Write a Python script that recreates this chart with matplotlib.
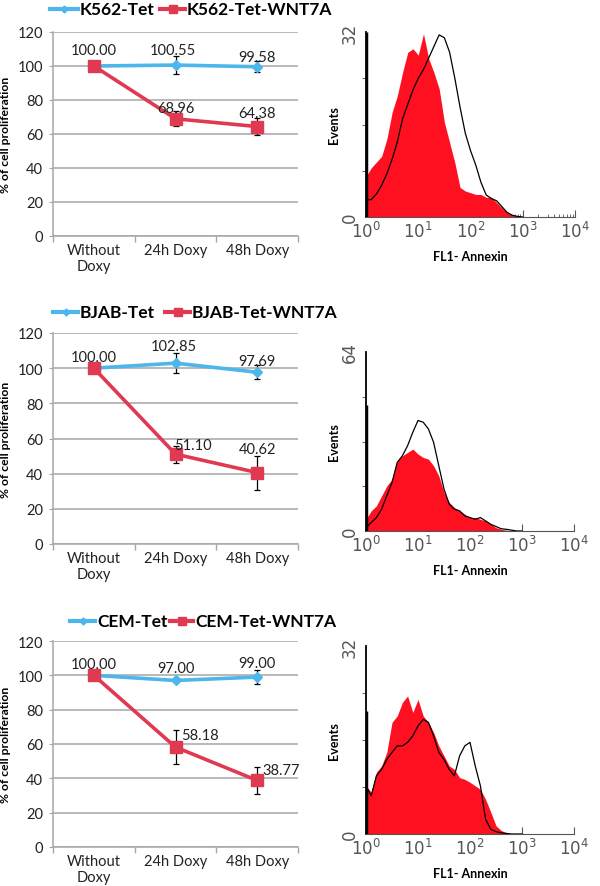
import numpy as np
import matplotlib
matplotlib.use('Agg')
import matplotlib.pyplot as plt
from matplotlib.lines import Line2D
from matplotlib.ticker import FixedLocator, NullFormatter

plt.rcParams['font.family'] = ['Lato', 'DejaVu Sans']

# line charts: % of cell proliferation
categories = ['Without\nDoxy', '24h Doxy', '48h Doxy']

k562_tet = [100.00, 100.55, 99.58]
k562_tet_err = [0, 5.2, 3.1]
k562_wnt = [100.00, 68.96, 64.38]
k562_wnt_err = [0, 4.5, 5.0]

bjab_tet = [100.00, 102.85, 97.69]
bjab_tet_err = [0, 5.8, 4.0]
bjab_wnt = [100.00, 51.10, 40.62]
bjab_wnt_err = [0, 4.9, 9.7]

cem_tet = [100.00, 97.00, 99.00]
cem_tet_err = [0, 0, 4.1]
cem_wnt = [100.00, 58.18, 38.77]
cem_wnt_err = [0, 10.0, 8.0]

# flow cytometry histograms (log10 FL1 channel -> events)
fl1_decade = [0.0, 0.1, 0.2, 0.3, 0.4, 0.5, 0.6, 0.7, 0.8, 0.9, 1.0,
              1.1, 1.2, 1.3, 1.4, 1.5, 1.6, 1.7, 1.8, 1.9, 2.0,
              2.1, 2.2, 2.3, 2.4, 2.5, 2.6, 2.7, 2.8, 2.9, 3.0]

k562_red = [7.0, 8.5, 9.5, 10.5, 13.5, 18.1, 21.0, 25.0, 28.5, 29.1, 28.0,
            31.7, 27.4, 25.0, 22.2, 16.4, 12.9, 9.4, 5.1, 4.5, 4.2,
            3.9, 3.9, 3.4, 3.4, 2.5, 1.6, 0.8, 0.3, 0.1, 0.0]
k562_open = [3.0, 3.0, 4.0, 5.5, 7.5, 10.0, 13.0, 17.0, 19.5, 22.0, 24.0,
             25.5, 27.5, 29.5, 31.5, 31.0, 28.5, 24.0, 19.0, 14.5, 11.5,
             9.0, 6.0, 3.8, 3.2, 2.8, 1.8, 0.8, 0.3, 0.1, 0.0]

bjab_red = [4.2, 7.2, 9.0, 12.6, 16.1, 18.5, 25.1, 26.9, 28.1, 29.3, 27.5,
            26.3, 25.7, 23.3, 19.7, 13.8, 10.2, 8.4, 7.2, 6.0, 4.8,
            4.8, 4.2, 3.6, 2.4, 1.2, 0.6, 0.3, 0.1, 0.0, 0.0]
bjab_open = [1.2, 3.0, 4.8, 7.8, 12.6, 17.3, 24.5, 26.9, 30.5, 35.3, 39.5,
             38.9, 36.5, 31.7, 23.3, 15.0, 9.6, 7.8, 7.2, 5.4, 4.8,
             4.2, 4.8, 3.6, 2.4, 1.6, 0.8, 0.6, 0.3, 0.0, 0.0]

cem_red = [8.2, 7.1, 10.5, 11.6, 13.9, 19.0, 20.1, 22.4, 23.5, 20.7, 22.9,
           20.1, 19.0, 17.3, 15.0, 13.3, 11.6, 11.0, 9.6, 9.3, 8.8,
           8.2, 7.6, 5.9, 3.7, 1.4, 0.6, 0.2, 0.0, 0.0, 0.0]
cem_open = [8.2, 6.5, 9.9, 11.0, 12.7, 13.9, 15.0, 15.0, 15.6, 16.7, 18.4,
            19.5, 19.0, 16.7, 13.9, 12.7, 11.0, 9.9, 13.3, 15.0, 15.6,
            11.6, 8.2, 2.5, 0.8, 0.4, 0.2, 0.1, 0.0, 0.0, 0.0]

first_channel = [32, 45, 21]   # pile-up in the first channel
y_max = [32, 64, 32]

BLUE = '#4db6ea'
RED = '#e03a52'
GRID = '#a6a6a6'

fig = plt.figure(figsize=(6, 8.87), dpi=100)


def px(x0, y0, x1, y1):
    # pixel box -> figure fraction
    return [x0 / 600, 1 - y1 / 887, (x1 - x0) / 600, (y1 - y0) / 887]


def legend_item(x0, x1, y, color, marker, ms, label):
    # hand placed legend entry (pixels from the top-left corner)
    fy = 1 - y / 887
    fig.add_artist(Line2D([x0 / 600, x1 / 600], [fy, fy], color=color, lw=3,
                          transform=fig.transFigure))
    fig.add_artist(Line2D([(x0 + x1) / 1200], [fy], color=color, marker=marker, ms=ms,
                          transform=fig.transFigure))
    fig.text((x1 + 2) / 600, fy, label, fontsize=12.5, fontweight='bold',
             ha='left', va='center')


def line_panel(box, names, tet, tet_err, wnt, wnt_err, offsets, leg):
    ax = fig.add_axes(px(*box))
    x = np.arange(len(categories))
    ax.errorbar(x, tet, yerr=tet_err, color=BLUE, lw=2.6, marker='D', ms=5,
                ecolor='black', elinewidth=0.9, capsize=2.5, capthick=0.9, zorder=3)
    ax.errorbar(x, wnt, yerr=wnt_err, color=RED, lw=2.6, marker='s', ms=8,
                ecolor='black', elinewidth=0.9, capsize=2.5, capthick=0.9, zorder=4)
    vals = [wnt[0], tet[1], tet[2], wnt[1], wnt[2]]
    idx = [0, 1, 2, 1, 2]
    for i, v, (dx, dy) in zip(idx, vals, offsets):
        ax.annotate(f'{v:.2f}', (i, v), xytext=(dx * 0.72, dy * 0.72),
                    textcoords='offset points', ha='center', va='center',
                    fontsize=10.5, color='#222222', zorder=5)
    ax.set_xlim(-0.5, 2.5)
    ax.set_ylim(0, 120)
    ax.set_yticks(range(0, 121, 20))
    ax.yaxis.grid(True, color=GRID, lw=1.1)
    ax.set_axisbelow(True)
    ax.set_xticks(x)
    ax.set_xticklabels(categories, fontsize=10.5, color='#222222', linespacing=1.15)
    ax.xaxis.set_minor_locator(FixedLocator([-0.5, 0.5, 1.5, 2.5]))
    ax.tick_params(axis='x', which='major', length=0, pad=5)
    ax.tick_params(axis='x', which='minor', length=4, color=GRID, width=1)
    ax.tick_params(axis='y', length=3, color=GRID, labelsize=10.5, labelcolor='#222222', pad=4)
    for s in ['top', 'right']:
        ax.spines[s].set_visible(False)
    for s in ['left', 'bottom']:
        ax.spines[s].set_color(GRID)
        ax.spines[s].set_linewidth(1.1)
    ax.set_ylabel('% of cell proliferation', fontsize=8.7, fontweight='bold', labelpad=5)
    (bx0, bx1, rx0, rx1, ly) = leg
    legend_item(bx0, bx1, ly, BLUE, 'D', 3.5, names[0])
    legend_item(rx0, rx1, ly, RED, 's', 6, names[1])
    return ax


def hist_panel(box, red, open_, spike, ymax):
    ax = fig.add_axes(px(*box))
    xs = [10 ** d for d in fl1_decade]
    ax.fill_between(xs, red, 0, color='#ff1020', lw=0, zorder=2)
    ax.plot(xs, open_, color='black', lw=0.9, zorder=3)
    ax.vlines(1, 0, spike, color='black', lw=2.5, zorder=4)
    ax.set_xscale('log')
    ax.set_xlim(1, 1e4)
    ax.set_ylim(0, ymax)
    ax.set_xticks([1, 10, 100, 1000, 10000])
    ax.set_xticklabels([r'$\mathregular{10^{%d}}$' % k for k in range(5)],
                       fontsize=12, color='#555555', family='DejaVu Sans')
    ax.tick_params(axis='x', which='major', direction='in', length=5, color='#555555', pad=3)
    ax.tick_params(axis='x', which='minor', direction='in', length=2.5, color='#555555')
    ax.xaxis.set_minor_formatter(NullFormatter())
    ax.set_yticks([0, ymax])
    ax.set_yticklabels(['0', str(ymax)], rotation=90, va='center', fontsize=12,
                       color='#555555', family='DejaVu Sans')
    ax.yaxis.set_minor_locator(FixedLocator([ymax / 4, ymax / 2, 3 * ymax / 4]))
    ax.tick_params(axis='y', which='major', length=0, pad=5)
    ax.tick_params(axis='y', which='minor', length=3, color='#444444')
    for s in ['top', 'right']:
        ax.spines[s].set_visible(False)
    ax.spines['bottom'].set_color('#555555')
    ax.spines['left'].set_color('black')
    ax.spines['left'].set_linewidth(1.3)
    ax.set_ylabel('Events', fontsize=9, fontweight='bold', labelpad=1)
    ax.set_xlabel('FL1- Annexin', fontsize=9, fontweight='bold', labelpad=6)
    return ax


line_panel((53, 33, 298, 237), ['K562-Tet', 'K562-Tet-WNT7A'],
           k562_tet, k562_tet_err, k562_wnt, k562_wnt_err,
           [(0, 16), (-3, 15), (0, 10), (0, 11), (0, 14)], (50, 78, 160, 185, 10))
line_panel((53, 334, 298, 545), ['BJAB-Tet', 'BJAB-Tet-WNT7A'],
           bjab_tet, bjab_tet_err, bjab_wnt, bjab_wnt_err,
           [(0, 11), (-2, 17), (0, 11), (17, 9), (0, 24)], (53, 78, 165, 190, 313))
line_panel((53, 642, 298, 848), ['CEM-Tet', 'CEM-Tet-WNT7A'],
           cem_tet, cem_tet_err, cem_wnt, cem_wnt_err,
           [(0, 11), (0, 12), (0, 14), (24, 12), (24, 10)], (70, 95, 170, 193, 622))

hist_panel((366, 33, 575, 218), k562_red, k562_open, first_channel[0], y_max[0])
hist_panel((366, 353, 574, 532), bjab_red, bjab_open, first_channel[1], y_max[1])
hist_panel((366, 647, 574, 835), cem_red, cem_open, first_channel[2], y_max[2])

plt.savefig('out.png', dpi=100)
